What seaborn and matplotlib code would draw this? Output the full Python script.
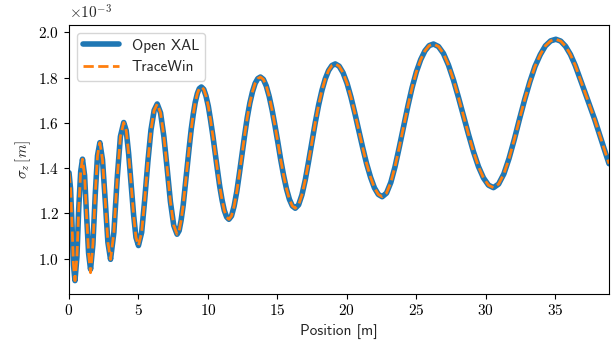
"""sigma_z along the linac: Open XAL vs TraceWin."""

import matplotlib
matplotlib.use("Agg")
import matplotlib.pyplot as plt
import pandas as pd
import seaborn as sns
from matplotlib.ticker import FuncFormatter

# position [m]
position = [
    0.00, 0.11, 0.22, 0.32, 0.43,
    0.57, 0.70, 0.84, 0.97,
    1.12, 1.26, 1.41, 1.55,
    1.72, 1.89, 2.05, 2.22,
    2.41, 2.61, 2.80, 2.99,
    3.23, 3.47, 3.70, 3.94,
    4.12, 4.29, 4.47, 4.65, 4.82, 5.00,
    5.23, 5.45, 5.68, 5.90, 6.13, 6.35,
    6.59, 6.83, 7.07, 7.30, 7.54, 7.78,
    7.93, 8.07, 8.22, 8.36, 8.51, 8.66, 8.80, 8.95, 9.09, 9.24, 9.38, 9.53,
    9.70, 9.86, 10.03, 10.19, 10.36, 10.52, 10.69, 10.85, 11.02, 11.18, 11.35, 11.51,
    11.70, 11.89, 12.08, 12.27, 12.46, 12.65, 12.83, 13.02, 13.21, 13.40, 13.59, 13.78,
    13.99, 14.20, 14.41, 14.62, 14.83, 15.04, 15.24, 15.45, 15.66, 15.87, 16.08, 16.29,
    16.53, 16.77, 17.01, 17.25, 17.49, 17.73, 17.97, 18.21, 18.45, 18.69, 18.93, 19.17,
    19.45, 19.73, 20.02, 20.30, 20.58, 20.86, 21.14, 21.42, 21.71, 21.99, 22.27, 22.55,
    22.86, 23.17, 23.47, 23.78, 24.09, 24.40, 24.70, 25.01, 25.32, 25.63, 25.93, 26.24,
    26.60, 26.96, 27.32, 27.68, 28.04, 28.40, 28.76, 29.12, 29.48, 29.84, 30.20, 30.56,
    30.93, 31.31, 31.68, 32.06, 32.43, 32.81, 33.18, 33.55, 33.93, 34.30, 34.68, 35.05,
    35.40, 35.75, 36.10, 36.45, 36.80, 37.15, 37.50, 37.85, 38.20, 38.55, 38.88,
]

# sigma_z in units of 1e-3 m
sigma_openxal = [
    1.380, 1.310, 1.142, 0.973, 0.903,
    1.008, 1.222, 1.385, 1.440,
    1.369, 1.197, 1.024, 0.953,
    1.063, 1.286, 1.455, 1.513,
    1.438, 1.255, 1.072, 0.997,
    1.116, 1.356, 1.540, 1.602,
    1.566, 1.466, 1.330, 1.194, 1.094, 1.058,
    1.116, 1.261, 1.430, 1.569, 1.656, 1.684,
    1.645, 1.540, 1.396, 1.252, 1.147, 1.108,
    1.124, 1.169, 1.236, 1.319, 1.408, 1.495, 1.573, 1.640, 1.692, 1.730, 1.752, 1.759,
    1.749, 1.720, 1.674, 1.613, 1.542, 1.467, 1.391, 1.320, 1.259, 1.213, 1.184, 1.174,
    1.189, 1.233, 1.297, 1.378, 1.463, 1.548, 1.623, 1.688, 1.738, 1.775, 1.796, 1.803,
    1.793, 1.764, 1.718, 1.658, 1.588, 1.513, 1.438, 1.368, 1.308, 1.262, 1.233, 1.223,
    1.238, 1.282, 1.348, 1.430, 1.517, 1.602, 1.679, 1.744, 1.795, 1.832, 1.854, 1.861,
    1.851, 1.822, 1.775, 1.714, 1.643, 1.568, 1.492, 1.421, 1.360, 1.313, 1.284, 1.274,
    1.290, 1.337, 1.406, 1.493, 1.585, 1.675, 1.756, 1.826, 1.880, 1.919, 1.942, 1.949,
    1.938, 1.907, 1.856, 1.790, 1.713, 1.632, 1.550, 1.473, 1.407, 1.357, 1.325, 1.314,
    1.330, 1.375, 1.443, 1.527, 1.616, 1.704, 1.782, 1.850, 1.902, 1.941, 1.963, 1.970,
    1.962, 1.939, 1.903, 1.854, 1.795, 1.735, 1.675, 1.615, 1.548, 1.482, 1.420,
]

# TraceWin sits on top of Open XAL, only the 2nd minimum dips a bit deeper
sigma_tracewin = list(sigma_openxal)
sigma_tracewin[12] = 0.938

x_ticks = [0, 5, 10, 15, 20, 25, 30, 35]
y_ticks = [1.0, 1.2, 1.4, 1.6, 1.8, 2.0]

assert len(position) == len(sigma_openxal)
df = pd.DataFrame({
    "position": position,
    "Open XAL": sigma_openxal,
    "TraceWin": sigma_tracewin,
})

sns.set_style("ticks")
plt.rcParams["font.family"] = ["cmss10", "DejaVu Sans"]
plt.rcParams["mathtext.fontset"] = "cm"
plt.rcParams["axes.unicode_minus"] = False
plt.rcParams["axes.edgecolor"] = "black"
plt.rcParams["xtick.color"] = "black"
plt.rcParams["ytick.color"] = "black"

fig = plt.figure(figsize=(6.14, 3.46), dpi=100)
ax = fig.add_axes([0.1124, 0.1517, 0.8795, 0.776])

sns.lineplot(data=df, x="position", y="Open XAL", color="#1f77b4", lw=4,
             label="Open XAL", sort=False, ax=ax)
sns.lineplot(data=df, x="position", y="TraceWin", color="#ff7f0e", lw=2,
             ls="--", label="TraceWin", sort=False, ax=ax)

ax.set_xlim(0, 38.88)
ax.set_ylim(0.846, 2.033)
ax.set_xticks(x_ticks)
ax.set_yticks(y_ticks)
ax.xaxis.set_major_formatter(FuncFormatter(lambda v, _: f"${v:.0f}$"))
ax.yaxis.set_major_formatter(FuncFormatter(lambda v, _: f"${v:.1f}$"))
ax.tick_params(labelsize=11, direction="out", length=3.5, width=0.8)
for s in ax.spines.values():
    s.set_linewidth(0.8)

ax.set_xlabel("Position [m]", fontsize=11)
ax.set_ylabel(r"$\sigma_z\,[m]$", fontsize=11)
ax.text(0.0, 1.012, r"$\times10^{-3}$", transform=ax.transAxes,
        fontsize=11, ha="left", va="bottom")

leg = ax.legend(loc="upper left", fontsize=11, handlelength=2.4,
                frameon=True, framealpha=0.8, fancybox=True)
leg.get_frame().set_edgecolor("#cccccc")

fig.savefig("out.png", dpi=100)
